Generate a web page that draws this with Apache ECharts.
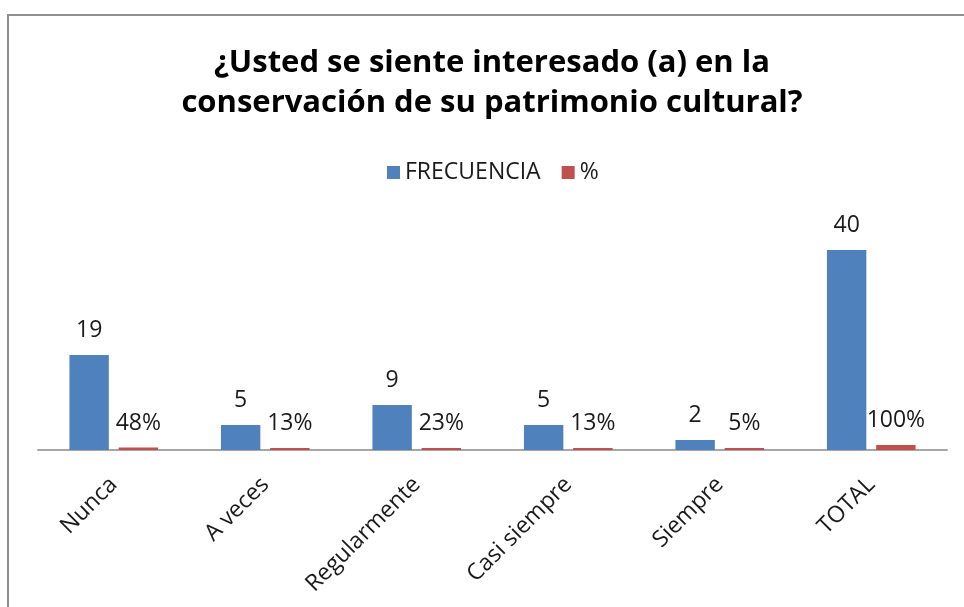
<!DOCTYPE html>
<html>
<head>
<meta charset="utf-8">
<script src="https://cdn.jsdelivr.net/npm/echarts@6/dist/echarts.min.js"></script>
<style>
  html, body { margin: 0; padding: 0; background: #fff; }
  #frame {
    position: absolute;
    left: 7px;
    top: 14px;
    width: 1000px;
    height: 700px;
    border: 2px solid #8e8e8e;
    box-sizing: border-box;
  }
  #chart-container {
    position: absolute;
    left: 0;
    top: 0;
    width: 964px;
    height: 607px;
  }
</style>
</head>
<body>
<div id="frame"></div>
<div id="chart-container"></div>
<script>
const categories = ['Nunca', 'A veces', 'Regularmente', 'Casi siempre', 'Siempre', 'TOTAL'];
const frecuencia = [19, 5, 9, 5, 2, 40];
const porcentaje = [0.48, 0.13, 0.23, 0.13, 0.05, 1.00];

const fontName = '"Open Sans", "Noto Sans", sans-serif';

let chart = echarts.init(document.getElementById('chart-container'));

const options = {
  animation: false,
  title: {
    text: '¿Usted se siente interesado (a) en la\nconservación de su patrimonio cultural?',
    left: 492,
    top: 43,
    padding: 0,
    textAlign: 'center',
    textStyle: {
      fontFamily: fontName,
      fontSize: 31,
      fontWeight: 'bold',
      color: '#000',
      lineHeight: 40
    }
  },

  legend: {
    data: ['FRECUENCIA', '%'],
    left: 387,
    top: 161,
    padding: 0,
    icon: 'rect',
    itemWidth: 13,
    itemHeight: 13,
    itemGap: 21,
    textStyle: {
      fontFamily: fontName,
      fontSize: 23,
      color: '#1a1a1a'
    }
  },

  grid: {
    left: 38,
    right: 17,
    top: 225,
    bottom: 157
  },

  xAxis: {
    type: 'category',
    data: categories,
    axisLine: { lineStyle: { color: '#a6a6a6', width: 2 } },
    axisTick: { show: false },
    axisLabel: {
      rotate: 45,
      margin: 31,
      fontFamily: fontName,
      fontSize: 23,
      color: '#1a1a1a'
    }
  },

  yAxis: {
    type: 'value',
    min: 0,
    max: 45,
    show: false,
    splitLine: { show: false }
  },

  series: [
    {
      name: 'FRECUENCIA',
      type: 'bar',
      data: frecuencia,
      barWidth: '26%',
      barGap: '25%',
      itemStyle: { color: '#4f81bd' },
      label: {
        show: true,
        position: 'top',
        distance: 13,
        fontFamily: fontName,
        fontSize: 23,
        color: '#1a1a1a'
      }
    },
    {
      name: '%',
      type: 'bar',
      data: porcentaje,
      barWidth: '26%',
      barMinHeight: 2,
      itemStyle: { color: '#c0504d' },
      label: {
        show: true,
        position: 'top',
        distance: 13,
        fontFamily: fontName,
        fontSize: 23,
        color: '#1a1a1a',
        formatter: p => Math.round(p.value * 100) + '%'
      }
    }
  ]
};

chart.setOption(options);
</script>
</body>
</html>
